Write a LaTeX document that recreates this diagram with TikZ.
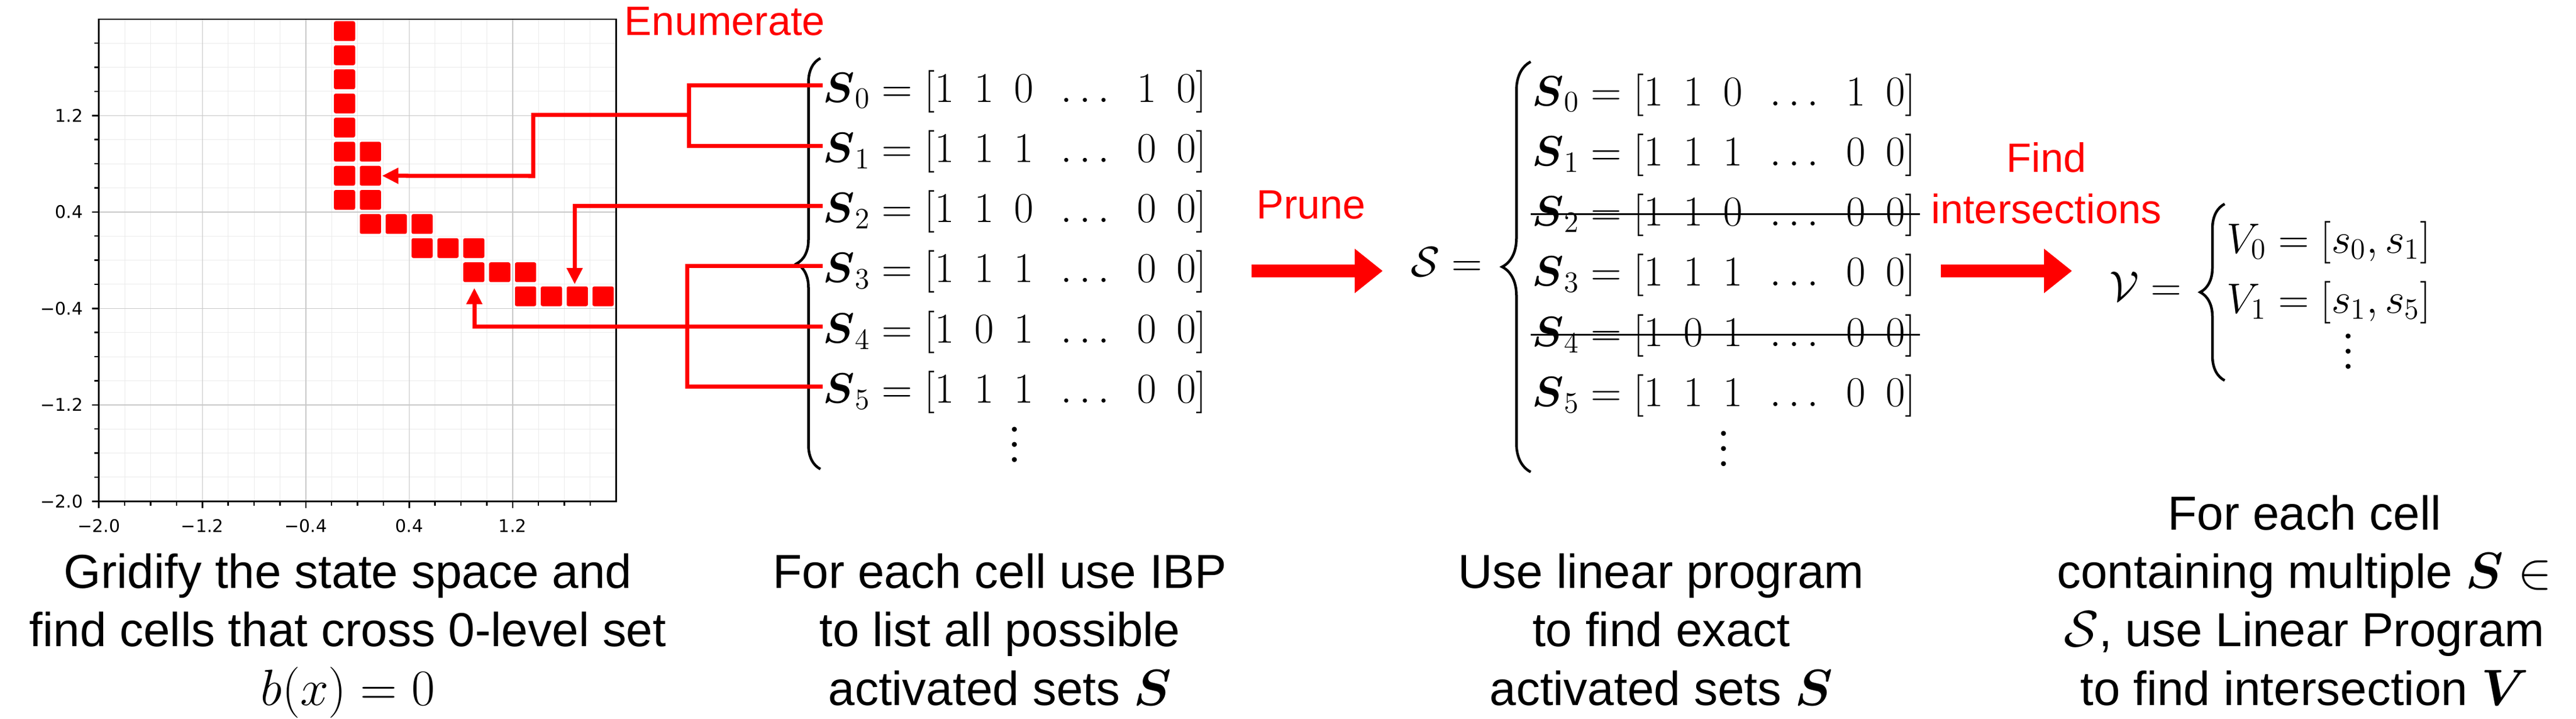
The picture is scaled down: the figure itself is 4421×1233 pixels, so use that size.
\documentclass[tikz,border=0pt]{standalone}
\usepackage{amsmath}
\usepackage[no-math]{fontspec}
\setmainfont{Liberation Sans}
\newfontfamily\tickfont{DejaVu Sans}
\usetikzlibrary{arrows.meta,decorations.pathreplacing,positioning}
\definecolor{gridlight}{HTML}{EBEBEB}
\definecolor{griddark}{HTML}{C8C8C8}
\newcommand{\vdotsx}{\vbox{\baselineskip=0.26cm\lineskiplimit=0pt\hbox{$.$}\hbox{$.$}\hbox{$.$}}}
\begin{document}
\begin{tikzpicture}[x=0.01cm, y=-0.01cm,
	plotframe/.style={line width=0.025cm},
	gridminor/.style={draw=gridlight, line width=0.01cm},
	gridmajor/.style={draw=griddark, line width=0.015cm},
	gridcell/.style={fill=red, rounded corners=0.03cm},
	ticklabel/.style={inner sep=0pt, font=\tickfont\fontsize{8.5}{10}\selectfont},
	enum/.style={red, line width=0.07cm},
	enumtip/.style={-{Triangle[length=0.28cm,width=0.26cm]}},
	listrow/.style={anchor=base west, inner sep=0pt, text height=0.56cm, text depth=0pt, font=\fontsize{21}{25}\selectfont},
	setname/.style={anchor=base east, inner sep=0pt, font=\fontsize{21}{25}\selectfont},
	listdots/.style={inner sep=0pt, font=\fontsize{36}{40}\selectfont},
	bigbrace/.style={decorate, decoration={brace, amplitude=#1}, line width=0.045cm},
	strikeout/.style={line width=0.033cm},
	bigarrow/.style={red, line width=0.22cm, -{Triangle[length=0.48cm,width=0.73cm]}},
	redlabel/.style={red, inner sep=0pt, font=\fontsize{20}{25}\selectfont},
	captiontext/.style={anchor=base, align=center, inner sep=0pt, font=\fontsize{23.3}{28.45}\selectfont},
	]
\useasboundingbox (0,0) rectangle (4421,1233);
% gridified state space
\begin{scope}[shift={(613.5,446.5)}, x=2.2175cm, y=2.0675cm]
  \foreach \i in {-9,...,9} {
    \draw[gridminor] (\i*0.2,-2) -- (\i*0.2,2);
    \draw[gridminor] (-2,\i*0.2) -- (2,\i*0.2);
  }
  \foreach \v in {-1.2,-0.4,0.4,1.2} {
    \draw[gridmajor] (\v,-2) -- (\v,2);
    \draw[gridmajor] (-2,\v) -- (2,\v);
  }
  \foreach \cx/\cy in {-0.2/1.8,-0.2/1.6,-0.2/1.4,-0.2/1.2,-0.2/1.0,-0.2/0.8,-0.2/0.6,-0.2/0.4,
      0/0.8,0/0.6,0/0.4,0/0.2,0.2/0.2,0.4/0.2,0.4/0,0.6/0,0.8/0,0.8/-0.2,
      1.0/-0.2,1.2/-0.2,1.2/-0.4,1.4/-0.4,1.6/-0.4,1.8/-0.4}
    \fill[gridcell] (\cx+0.018,\cy+0.018) rectangle (\cx+0.182,\cy+0.182);
  \foreach \i in {-10,...,9} {
    \draw[plotframe] (\i*0.2,-2) -- ++(0cm,-0.08cm);
    \draw[plotframe] (-2,\i*0.2) -- ++(-0.08cm,0cm);
  }
  \foreach \v/\t [count=\k] in {-2/−2.0,-1.2/−1.2,-0.4/−0.4,0.4/0.4,1.2/1.2} {
    \draw[plotframe] (\v,-2) -- ++(0cm,-0.12cm) node[ticklabel, below=0.18cm] (xt\k) {\t};
    \draw[plotframe] (-2,\v) -- ++(-0.12cm,0cm) node[ticklabel, left=0.14cm] (yt\k) {\t};
  }
  \draw[plotframe] (-2,-2) rectangle (2,2);
  \coordinate (cellA) at (0.19,0.70);
  \coordinate (cellB) at (1.68,-0.2);
  \coordinate (cellC) at (0.904,-0.23);
\end{scope}
% enumerated and pruned activation sets
\draw[bigbrace=0.41cm] (1408,805) -- (1408,100);
\draw[bigbrace=0.49cm] (2627,810) -- (2627,106);
\draw[bigbrace=0.42cm] (3818,653) -- (3818,350);
\foreach \k/\a/\b/\c/\d/\e in {0/1/1/0/1/0,1/1/1/1/0/0,2/1/1/0/0/0,3/1/1/1/0/0,4/1/0/1/0/0,5/1/1/1/0/0} {
  \node[listrow] (s\k) at (1412,{175+103.3*\k}) {$\boldsymbol{S}_\k = [\a\mkern8.5mu\b\mkern8.5mu\c\mkern8.5mu\ldots\mkern8.5mu\d\mkern8.5mu\e]$};
  \node[listrow] (m\k) at (2629,{181+103.3*\k}) {$\boldsymbol{S}_\k = [\a\mkern8.5mu\b\mkern8.5mu\c\mkern8.5mu\ldots\mkern8.5mu\d\mkern8.5mu\e]$};
}
\node[listdots] (sdots) at (1741,763) {\vdotsx};
\node[listdots] (mdots) at (2958,770) {\vdotsx};
\draw[strikeout] ([xshift=-0.02cm,yshift=-0.08cm]m2.west) -- ([xshift=0.07cm,yshift=-0.08cm]m2.east);
\draw[strikeout] ([xshift=-0.02cm,yshift=-0.08cm]m4.west) -- ([xshift=0.07cm,yshift=-0.08cm]m4.east);
\node[setname] (setS) at (2545,474) {$\mathcal{S} =$};
\node[setname] (setV) at (3745,516) {$\mathcal{V} =$};
\node[listrow] (v0) at (3821,434) {$V_0 = [s_0, s_1]$};
\node[listrow] (v1) at (3821,537) {$V_1 = [s_1, s_5]$};
\node[listdots] (vdots) at (4030,603) {\vdotsx};
% enumerate connectors
\coordinate (j01) at (1182,197);
\coordinate (kA) at (915,302);
\coordinate (j35) at (1179,560);
\draw[enum] (s0.west) -| (j01) |- (s1.west);
\draw[enum,enumtip] (j01) -| (kA) -- (cellA);
\draw[enum,enumtip] (s2.west) -| (cellB);
\draw[enum] (s3.west) -| (j35) |- (s5.west);
\draw[enum,enumtip] (s4.west) -| (cellC);
\node[redlabel, anchor=base] (enumlabel) at (1244,60) {Enumerate};
% prune and intersect
\coordinate (pruneA) at (2148,465);
\coordinate (pruneB) at (2373,465);
\coordinate (findA) at (3331,465);
\coordinate (findB) at (3556,465);
\draw[bigarrow] (pruneA) -- (pruneB);
\draw[bigarrow] (findA) -- (findB);
\node[redlabel, anchor=base] (prunelabel) at (2250,375) {Prune};
\node[redlabel, align=center, anchor=south] (findlabel) at (3512,385) {Find\\intersections};
% captions
\node[captiontext] (cap1) at (597,1210) {Gridify the state space and\\find cells that cross 0-level set\\$b(x) = 0$};
\node[captiontext] (cap2) at (1716,1210) {For each cell use IBP\\to list all possible\\activated sets $\boldsymbol{S}$};
\node[captiontext] (cap3) at (2851,1210) {Use linear program\\to find exact\\activated sets $\boldsymbol{S}$};
\node[captiontext] (cap4) at (3955,1210) {For each cell\\containing multiple $\boldsymbol{S} \in$\\$\mathcal{S}$, use Linear Program\\to find intersection $\boldsymbol{V}$};
\end{tikzpicture}
\end{document}
